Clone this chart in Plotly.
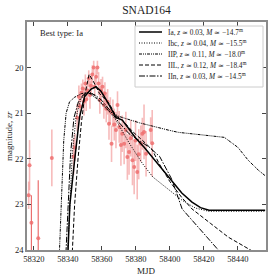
import plotly.graph_objects as go

# ---------------- data ----------------
obs_mjd = [58317.0, 58317.5, 58330.6, 58343.4, 58344.2,
           58345.5, 58346.5, 58347.2, 58348.0, 58348.8, 58349.5, 58350.3, 58350.8, 58351.6, 58352.3,
           58353.0, 58353.7, 58354.4, 58355.2, 58355.8, 58356.6, 58357.4, 58358.1, 58358.8, 58359.5,
           58360.4, 58361.2, 58361.8, 58362.6, 58363.4, 58364.2, 58365.0, 58365.7, 58366.5, 58367.3,
           58368.3, 58369.2, 58370.2, 58371.2, 58372.0, 58373.1, 58374.1, 58375.0, 58376.0, 58377.0,
           58378.0, 58379.0, 58379.8, 58380.8, 58381.7, 58382.9, 58383.8, 58384.8, 58386.0, 58388.7,
           58389.6]
obs_mag = [22.80, 22.14, 21.98, 21.95, 21.75,
           21.10, 20.64, 20.85, 20.55, 20.46, 20.75, 20.35, 20.70, 20.50, 20.24,
           20.60, 20.40, 20.15, 20.00, 20.42, 20.20, 20.00, 20.35, 20.71, 20.50,
           20.42, 20.82, 20.57, 20.90, 20.75, 21.23, 20.95, 21.67, 21.00, 21.25,
           21.37, 20.82, 21.30, 21.70, 21.45, 21.67, 21.37, 21.96, 21.85, 21.55,
           22.03, 22.18, 21.60, 22.29, 21.90, 21.67, 21.45, 21.41, 21.89, 21.37,
           21.66]
obs_err = [0.30, 0.55, 0.62, 0.40, 0.30,
           0.30, 0.25, 0.30, 0.20, 0.20, 0.30, 0.20, 0.25, 0.20, 0.18,
           0.30, 0.22, 0.20, 0.15, 0.20, 0.18, 0.15, 0.25, 0.30, 0.25,
           0.22, 0.30, 0.25, 0.30, 0.28, 0.35, 0.30, 0.40, 0.30, 0.35,
           0.40, 0.30, 0.35, 0.45, 0.40, 0.45, 0.40, 0.50, 0.50, 0.40,
           0.55, 0.60, 0.45, 0.60, 0.55, 0.40, 0.35, 0.60, 0.50, 0.28,
           0.73]
# faint early points drawn with stronger error bars
faint_mjd = [58318.6, 58322.6]
faint_mag = [23.40, 23.74]
faint_err = [0.60, 1.27]

ia_mjd = [58339.8, 58341.2, 58344.0, 58346.9, 58349.8, 58353.7, 58356.5, 58359.5, 58362.5, 58366.0,
          58368.5, 58372.0, 58376.0, 58380.0, 58385.0, 58390.0, 58395.0, 58401.0, 58407.0, 58413.0,
          58418.0, 58423.0, 58456.0]
ia_mag = [24.3, 23.0, 22.03, 21.08, 20.64, 20.47, 20.42, 20.52, 20.70, 20.95,
          21.10, 21.15, 21.35, 21.55, 21.75, 21.98, 22.20, 22.50, 22.75, 22.95,
          23.07, 23.13, 23.13]

ibc_mjd = [58339.6, 58341.0, 58342.6, 58344.8, 58347.5, 58351.0, 58354.0, 58358.0, 58362.0, 58365.0,
           58368.3, 58376.0, 58383.8, 58390.0, 58399.4, 58407.2, 58415.0, 58422.7, 58456.0]
ibc_mag = [24.3, 23.0, 21.9, 21.1, 20.7, 20.55, 20.55, 20.70, 20.85, 21.00,
           21.15, 21.65, 22.10, 22.40, 22.68, 22.91, 23.08, 23.15, 23.15]

iip_mjd = [58334.8, 58336.0, 58337.6, 58339.0, 58341.0, 58344.0, 58348.0, 58352.0, 58356.0, 58360.0,
           58364.0, 58370.0, 58382.0, 58399.0, 58405.0, 58420.0, 58432.0, 58440.0, 58446.0, 58452.0,
           58456.0]
iip_mag = [24.3, 23.0, 21.6, 21.0, 20.75, 20.65, 20.57, 20.55, 20.65, 20.80,
           20.95, 21.07, 21.21, 21.37, 21.42, 21.48, 21.53, 21.75, 22.03, 22.25,
           22.37]

iil_mjd = [58342.3, 58344.0, 58346.0, 58348.0, 58350.0, 58352.5, 58355.0, 58358.6, 58364.4, 58368.0,
           58372.0, 58378.0, 58384.0, 58389.6, 58393.6, 58400.0, 58407.0, 58413.0, 58424.0, 58434.4,
           58452.0]
iil_mag = [24.3, 23.0, 22.0, 21.2, 20.6, 20.15, 20.30, 20.57, 20.79, 21.05,
           21.15, 21.40, 21.60, 21.80, 22.10, 22.50, 22.85, 23.10, 23.42, 23.72,
           24.10]

iin_mjd = [58338.6, 58340.0, 58341.6, 58343.6, 58346.2, 58349.0, 58352.0, 58356.0, 58360.0, 58365.0,
           58370.0, 58376.0, 58382.0, 58388.0, 58394.0, 58401.0, 58407.2, 58428.5, 58432.0]
iin_mag = [24.3, 23.0, 21.9, 21.1, 20.75, 20.60, 20.55, 20.60, 20.72, 20.95,
           21.20, 21.45, 21.60, 21.75, 21.95, 22.44, 23.10, 24.00, 24.15]

legend_labels = [
    "Ia, <i>z</i> ≃ 0.03, <i>M</i> ≃ −14.7<sup>m</sup>",
    "Ibc, <i>z</i> ≃ 0.04, <i>M</i> ≃ −15.5<sup>m</sup>",
    "IIP, <i>z</i> ≃ 0.11, <i>M</i> ≃ −18.0<sup>m</sup>",
    "IIL, <i>z</i> ≃ 0.12, <i>M</i> ≃ −18.4<sup>m</sup>",
    "IIn, <i>z</i> ≃ 0.03, <i>M</i> ≃ −14.5<sup>m</sup>",
]

# ---------------- figure ----------------
FONT = "Liberation Serif"
fig = go.Figure()

fig.add_trace(go.Scatter(
    x=obs_mjd, y=obs_mag, mode="markers",
    error_y=dict(type="data", array=obs_err, visible=True, color="rgba(240,120,120,0.5)",
                 thickness=1.6, width=0),
    marker=dict(size=4, color="rgba(238,110,110,0.85)"),
    showlegend=False, hoverinfo="skip"))
fig.add_trace(go.Scatter(
    x=faint_mjd, y=faint_mag, mode="markers",
    error_y=dict(type="data", array=faint_err, visible=True, color="rgba(232,95,95,0.9)",
                 thickness=1.2, width=0),
    marker=dict(size=4, color="rgba(238,110,110,0.85)"),
    showlegend=False, hoverinfo="skip"))

styles = [
    (ia_mjd, ia_mag, "solid", 1.5),
    (ibc_mjd, ibc_mag, "1px,1.5px", 1.0),
    (iip_mjd, iip_mag, "3px,1px,1px,1px,1px,1px", 1.0),
    (iil_mjd, iil_mag, "4px,2px", 1.0),
    (iin_mjd, iin_mag, "6px,1.5px,1.5px,1.5px", 1.0),
]
for xs, ys, dash, w in styles:
    fig.add_trace(go.Scatter(x=xs, y=ys, mode="lines", line=dict(color="black", width=w, dash=dash),
                             showlegend=False, hoverinfo="skip"))

# custom legend (matplotlib-like compact box)
L, R, T, B = 27, 266, 22, 250
def px(xp): return (xp - L) / (R - L)
def py(yp): return (B - yp) / (B - T)

shapes = [dict(type="rect", xref="paper", yref="paper", x0=px(135), x1=px(263), y0=py(87), y1=py(26),
               line=dict(color="#cccccc", width=1), fillcolor="white", layer="above")]
annotations = []
rows = [32, 43, 54, 65, 76]
for (xs, ys, dash, w), lab, ry in zip(styles, legend_labels, rows):
    shapes.append(dict(type="line", xref="paper", yref="paper", x0=px(139), x1=px(162),
                       y0=py(ry), y1=py(ry), line=dict(color="black", width=w, dash=dash), layer="above"))
    annotations.append(dict(text=lab, xref="paper", yref="paper", x=px(166), y=py(ry),
                            xanchor="left", yanchor="middle", showarrow=False,
                            font=dict(family=FONT, size=7.3, color="#222")))

annotations.append(dict(text="Best type: Ia", xref="paper", yref="paper", x=px(38), y=py(33),
                        xanchor="left", yanchor="middle", showarrow=False,
                        font=dict(family=FONT, size=8.5, color="#222")))
annotations.append(dict(text="MJD", xref="paper", yref="paper", x=0.5, y=py(271),
                        xanchor="center", yanchor="middle", showarrow=False,
                        font=dict(family=FONT, size=9, color="#222")))
annotations.append(dict(text="magnitude, <i>zr</i>", xref="paper", yref="paper", x=px(9), y=0.5,
                        xanchor="center", yanchor="middle", textangle=-90, showarrow=False,
                        font=dict(family=FONT, size=9, color="#222")))

axis_common = dict(showline=True, linecolor="#8c8c8c", linewidth=1.5, mirror="ticks",
                   ticks="inside", ticklen=4, tickwidth=0.8, tickcolor="#444",
                   showgrid=False, zeroline=False,
                   tickfont=dict(family=FONT, size=8.5, color="#222"))

fig.update_layout(
    width=280, height=280,
    margin=dict(l=L, r=280 - R, t=T, b=280 - B, autoexpand=False),
    paper_bgcolor="white", plot_bgcolor="white",
    title=dict(text="SNAD164", x=(L + R) / 2 / 280, xanchor="center", y=1 - 10 / 280, yanchor="middle",
               font=dict(family=FONT, size=11.5, color="#222")),
    xaxis=dict(range=[58316, 58456.5], tickvals=[58320, 58340, 58360, 58380, 58400, 58420, 58440],
               ticktext=["58320", "58340", "58360", "58380", "58400", "58420", "58440"], **axis_common),
    yaxis=dict(range=[24, 19], tickvals=[20, 21, 22, 23, 24], ticktext=["20", "21", "22", "23", "24"],
               **axis_common),
    shapes=shapes, annotations=annotations, showlegend=False,
)

fig.write_html("out.html", config={"displayModeBar": False},
               post_script="document.body.style.margin='0';document.body.style.overflow='hidden';")
